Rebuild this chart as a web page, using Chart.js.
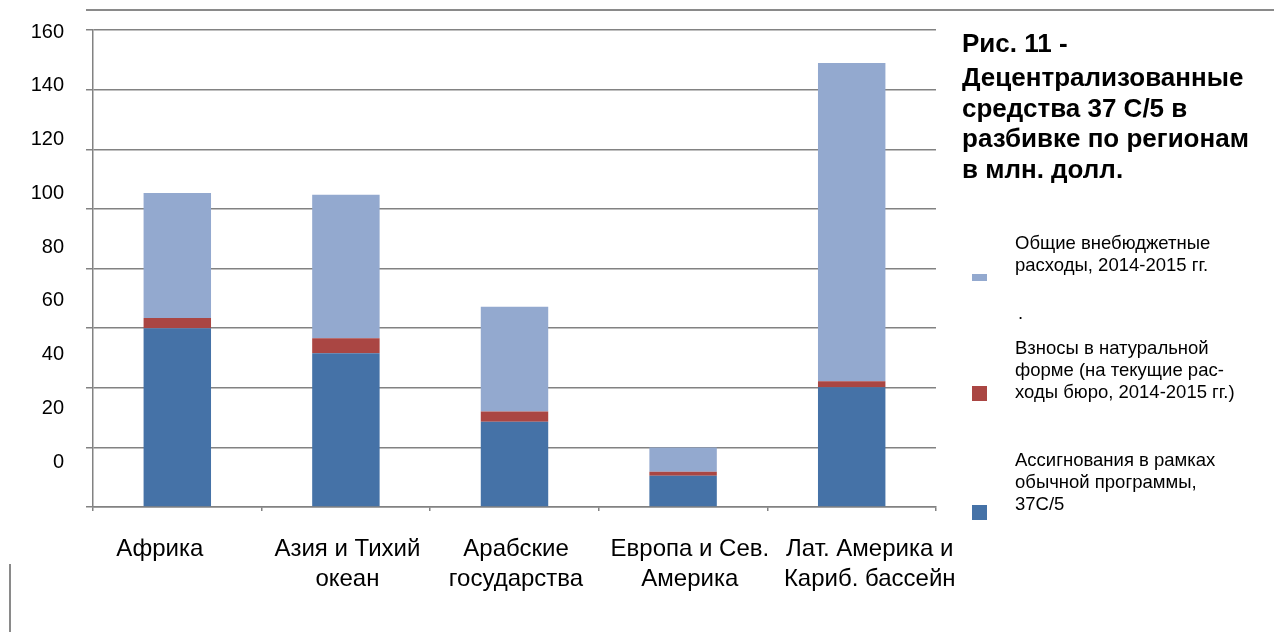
<!DOCTYPE html>
<html>
<head>
<meta charset="utf-8">
<script src="https://cdn.jsdelivr.net/npm/chart.js@4"></script>
<style>
    body { margin: 0; background: #fff; font-family: 'Liberation Sans', Arial, sans-serif; }
    #wrap { position: relative; width: 1274px; height: 632px; overflow: hidden; }
    #chartBox { position: absolute; left: 0; top: 0; width: 1274px; height: 632px; }
    .line { position: absolute; background: #8a8a8a; }
    #title { position: absolute; left: 962px; top: 28px; font-weight: bold; font-size: 26px; line-height: 30.8px; color: #000; white-space: nowrap; }
    .lg-box { position: absolute; width: 15px; height: 15px; }
    .lg-text { position: absolute; left: 1015px; font-size: 18.5px; line-height: 22px; color: #000; white-space: nowrap; }
</style>
</head>
<body>
<div id="wrap">
    <div id="chartBox"><canvas id="regionChart"></canvas></div>
    <!-- рамка сверху и обрезок слева снизу -->
    <div class="line" style="left:86px; top:9px; width:1188px; height:2px;"></div>
    <div class="line" style="left:9px; top:564px; width:2px; height:68px;"></div>

    <div id="title">
        <div>Рис. 11 -</div>
        <div style="margin-top:3px;">Децентрализованные<br>средства 37 С/5 в<br>разбивке по регионам<br>в млн. долл.</div>
    </div>

    <div class="lg-box" style="left:972px; top:274px; height:7px; background:#93a9cf;"></div>
    <div class="lg-text" style="top:232px;">Общие внебюджетные<br>расходы, 2014-2015 гг.</div>
    <div class="lg-text" style="top:302px; left:1018px;">.</div>

    <div class="lg-box" style="left:972px; top:386px; background:#aa4643;"></div>
    <div class="lg-text" style="top:337px;">Взносы в натуральной<br>форме (на текущие рас-<br>ходы бюро, 2014-2015 гг.)</div>

    <div class="lg-box" style="left:972px; top:505px; background:#4572a7;"></div>
    <div class="lg-text" style="top:449px;">Ассигнования в рамках<br>обычной программы,<br>37С/5</div>
</div>
<script>
// регионы
const regions = [
    'Африка',
    ['Азия и Тихий', 'океан'],
    ['Арабские', 'государства'],
    ['Европа и Сев.', 'Америка'],
    ['Лат. Америка и', 'Кариб. бассейн']
];

// млн. долл. по регионам
const regularBudget = [60.0, 51.6, 28.6, 10.5, 40.2];   // Ассигнования 37C/5
const inKind = [3.4, 5.0, 3.4, 1.3, 2.0];               // Взносы в натуральной форме
const extraBudgetary = [41.9, 48.1, 35.2, 8.2, 106.7];  // Общие внебюджетные расходы

// подписи оси Y (в оригинале сдвинуты относительно сетки)
const yTickLabels = [0, 20, 40, 60, 80, 100, 120, 140, 160];

const gridGray = '#828282';
const fontFamily = "'Liberation Sans', Arial, sans-serif";

// подписи категорий в оригинале немного смещены (в долях категории)
const xLabelNudge = [-0.104, 0.009, 0.009, 0.04, 0.107];

const ctx = document.getElementById('regionChart').getContext('2d');
new Chart(ctx, {
    type: 'bar',
    data: {
        labels: regions,
        datasets: [{
            label: 'Ассигнования в рамках обычной программы, 37С/5',
            data: regularBudget,
            backgroundColor: '#4572a7'
        }, {
            label: 'Взносы в натуральной форме',
            data: inKind,
            backgroundColor: '#aa4643'
        }, {
            label: 'Общие внебюджетные расходы, 2014-2015 гг.',
            data: extraBudgetary,
            backgroundColor: '#93a9cf'
        }]
    },
    options: {
        responsive: true,
        maintainAspectRatio: false,
        animation: false,
        categoryPercentage: 0.8,
        barPercentage: 0.5,
        layout: { padding: { left: 0, top: 30, right: 338, bottom: 0 } },
        plugins: {
            legend: { display: false },
            tooltip: { enabled: false }
        },
        scales: {
            x: {
                stacked: true,
                weight: 0,
                grid: { drawOnChartArea: false, drawTicks: true, tickLength: 4, color: gridGray, lineWidth: 1.5 },
                border: { color: gridGray, width: 1.5 },
                ticks: { display: false },
                afterFit: s => { s.height = 4; }
            },
            // ось только для подписей регионов
            xl: {
                type: 'linear',
                position: 'bottom',
                weight: 1,
                offset: false,
                min: -0.5,
                max: 4.5,
                grid: { display: false, drawTicks: false, offset: false },
                border: { display: false },
                ticks: {
                    color: '#000',
                    font: { family: fontFamily, size: 24, lineHeight: 1.22 },
                    padding: 24,
                    maxRotation: 0,
                    autoSkip: false,
                    callback: (v, i) => regions[i]
                },
                afterBuildTicks: axis => {
                    axis.ticks = regions.map((r, i) => ({ value: i + xLabelNudge[i] }));
                },
                afterFit: s => { s.height = 121; }
            },
            y: {
                stacked: true,
                min: 0,
                max: 160,
                weight: 0,
                ticks: { stepSize: 20, display: false },
                grid: { color: gridGray, lineWidth: 1.5, tickLength: 7 },
                border: { color: gridGray, width: 1.5 },
                afterFit: s => { s.width = 29; }
            },
            // отдельная ось только для подписей
            yl: {
                type: 'linear',
                position: 'left',
                weight: 1,
                min: -16.74,
                max: 160.74,
                grid: { display: false, drawTicks: false },
                border: { display: false },
                ticks: {
                    color: '#000',
                    font: { family: fontFamily, size: 20 },
                    padding: 0
                },
                afterBuildTicks: axis => {
                    axis.ticks = yTickLabels.map(v => ({ value: v }));
                },
                afterFit: s => { s.width = 64; }
            }
        }
    }
});
</script>
</body>
</html>
